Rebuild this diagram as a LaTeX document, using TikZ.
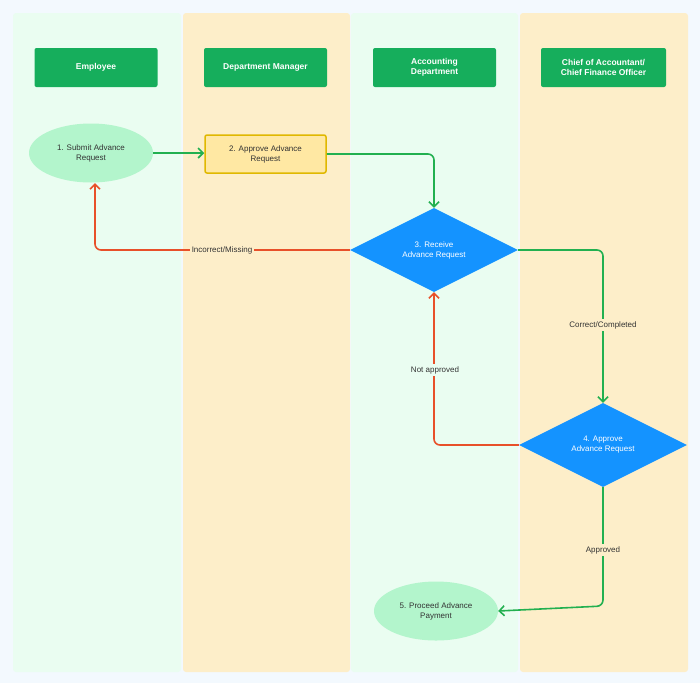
\documentclass[tikz,border=0pt]{standalone}
\usepackage{fontspec}
\setmainfont{Liberation Sans}
\usetikzlibrary{shapes.geometric,arrows.meta}
\definecolor{bg}{HTML}{F3F9FE}
\definecolor{laneg}{HTML}{EAFDF1}
\definecolor{laney}{HTML}{FDEEC9}
\definecolor{hdr}{HTML}{16AE5C}
\definecolor{arrg}{HTML}{22B050}
\definecolor{arrr}{HTML}{E8502A}
\definecolor{dia}{HTML}{1493FF}
\definecolor{ell}{HTML}{B3F5CC}
\definecolor{recf}{HTML}{FFE8A3}
\definecolor{recd}{HTML}{E0B800}
\definecolor{txt}{HTML}{333333}
\begin{document}
\begin{tikzpicture}[x=1pt,y=-1pt,font=\fontsize{8}{10}\selectfont,
 hdr/.style={fill=hdr,rounded corners=2pt,minimum width=123pt,minimum height=39pt,text=white,font=\fontsize{8.5}{10.5}\selectfont\bfseries,align=center},
 ell/.style={ellipse,fill=ell,minimum width=124pt,minimum height=59pt,text=txt,align=center},
 dia/.style={diamond,fill=dia,minimum width=168pt,minimum height=84pt,text=white,align=center,inner sep=0pt},
 g/.style={draw=arrg,line width=1.6pt,-{Straight Barb[length=5pt,width=10pt]},rounded corners=6pt},
 r/.style={draw=arrr,line width=1.6pt,-{Straight Barb[length=5pt,width=10pt]},rounded corners=6pt},
 lbl/.style={text=txt,inner sep=2pt}]
\fill[bg] (0,0) rectangle (700,683);
\fill[laneg,rounded corners=3pt] (13,13) rectangle (181,672);
\fill[laney,rounded corners=3pt] (183,13) rectangle (350,672);
\fill[laneg,rounded corners=3pt] (351,13) rectangle (518,672);
\fill[laney,rounded corners=3pt] (520,13) rectangle (688,672);
\node[hdr] (h1) at (96,67.5) {Employee};
\node[hdr] (h2) at (265.5,67.5) {Department Manager};
\node[hdr] (h3) at (434.5,67.5) {Accounting\\Department};
\node[hdr,minimum width=125pt] (h4) at (603.5,67.5) {Chief of Accountant/\\Chief Finance Officer};
\node[ell] (n1) at (91,153) {1. Submit Advance\\Request};
\node[draw=recd,line width=1.5pt,fill=recf,rounded corners=2pt,minimum width=121pt,minimum height=38pt,text=txt,align=center] (n2) at (265.5,154) {2. Approve Advance\\Request};
\node[dia] (n3) at (434,250) {3. Receive\\Advance Request};
\node[dia] (n4) at (603,445) {4. Approve\\Advance Request};
\node[ell] (n5) at (436,611) {5. Proceed Advance\\Payment};
\draw[g] (n1.east) -- (n2.west |- n1.east);
\draw[g] (n2.east) -- (434,154) -- (n3.north);
\draw[r] (n3.west) -- (95,250) -- (95,183);
\node[lbl,fill=laney] (l1) at (222,250) {Incorrect/Missing};
\draw[g] (n3.east) -- (603,250) -- (n4.north);
\node[lbl,fill=laney] (l2) at (603,325) {Correct/Completed};
\draw[r] (n4.west) -- (434,445) -- (n3.south);
\node[lbl,fill=laneg] (l3) at (435,370) {Not approved};
\draw[g] (n4.south) -- (603,606) -- (n5.east);
\node[lbl,fill=laney] (l4) at (603,550) {Approved};
\end{tikzpicture}
\end{document}
